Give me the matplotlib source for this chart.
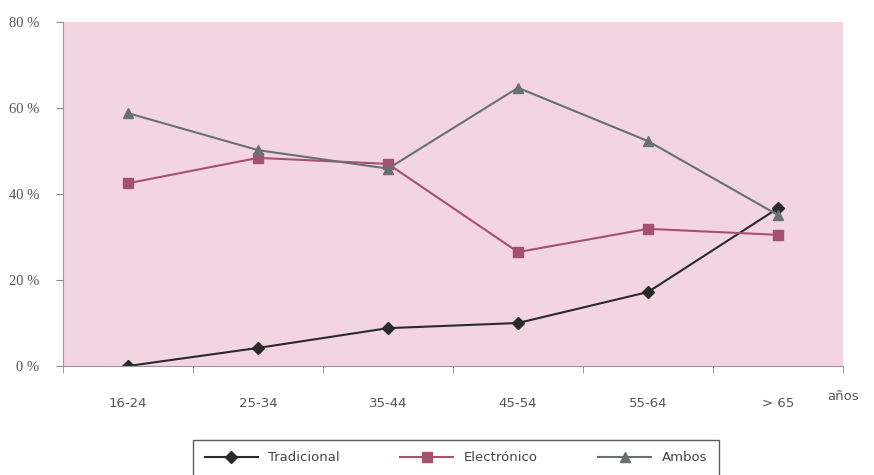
import numpy as np
import matplotlib
matplotlib.use("Agg")
import matplotlib.pyplot as plt

# grupos de edad y porcentajes
edades = ["16-24", "25-34", "35-44", "45-54", "55-64", "> 65"]
tradicional = [0.0, 4.2, 8.8, 10.0, 17.2, 36.7]
electronico = [42.5, 48.4, 47.0, 26.5, 31.9, 30.5]
ambos = [58.8, 50.2, 45.9, 64.7, 52.3, 35.1]
yticks = [0, 20, 40, 60, 80]

fig = plt.figure(figsize=(8.74, 4.75), dpi=100)
ax = fig.add_axes([63/874, 1-366/475, (843-63)/874, (366-22)/475])
ax.set_facecolor("#f3d5e1")

x = np.arange(len(edades))
ax.plot(x, tradicional, color="#2a2a2a", lw=1.5, marker="D", ms=6.5, label="Tradicional")
ax.plot(x, electronico, color="#a4506f", lw=1.5, marker="s", ms=7.5, label="Electrónico")
ax.plot(x, ambos, color="#687070", lw=1.5, marker="^", ms=7.5, label="Ambos")

ax.set_xlim(-0.5, len(edades) - 0.5)
ax.set_ylim(0, 80)
ax.set_yticks(yticks)
ax.set_yticklabels([f"{v} %" for v in yticks], fontsize=10.5, color="#555555", family="Liberation Serif")
ax.set_xticks(x)
ax.set_xticklabels(edades, fontsize=9.5, color="#555555")
ax.tick_params(axis="x", which="major", length=0, pad=22)
ax.set_xticks(np.arange(-0.5, len(edades)), minor=True)
ax.tick_params(axis="x", which="minor", length=5, color="#888888")
ax.tick_params(axis="y", length=5, color="#888888", pad=12)

for s in ["top", "right"]:
    ax.spines[s].set_visible(False)
for s in ["left", "bottom"]:
    ax.spines[s].set_color("#999999")

fig.text(827/874, 1-396/475, "años", fontsize=9.5, color="#555555", va="center")

leg = fig.legend(loc="upper center", bbox_to_anchor=(456/874, 1-433/475), ncol=3,
                 frameon=True, fancybox=False, edgecolor="#333333", fontsize=9.5,
                 handlelength=4, columnspacing=4.6, borderpad=0.9)
for t in leg.get_texts():
    t.set_color("#444444")
leg.get_frame().set_linewidth(1.0)

fig.savefig("out.png", dpi=100)
